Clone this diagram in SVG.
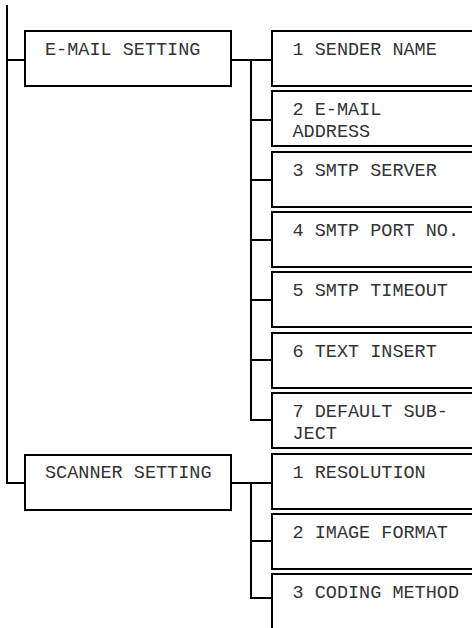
<svg xmlns="http://www.w3.org/2000/svg" width="472" height="628" viewBox="0 0 472 628">
<style>
.box{fill:#fff;stroke:#000;stroke-width:2}
.open{fill:none;stroke:#000;stroke-width:2}
.ln{fill:none;stroke:#000;stroke-width:2}
text{font-family:"Courier New","Liberation Mono",monospace;font-size:18.5px;fill:#333}
</style>
<rect width="472" height="628" fill="#fff"/>
<g id="connectors">
<path class="ln" d="M7,5 V483 H25 M7,60 H25"/>
<path class="ln" d="M231,60 H272 M251,60 V420 H273 M251,120 H272 M251,180 H272 M251,240 H272 M251,300 H272 M251,360 H272"/>
<path class="ln" d="M231,483 H272 M251,483 V598 H273 M251,541 H272"/>
</g>
<g id="email-setting"><rect class="box" x="25" y="31" width="206" height="55"/><text x="45" y="55">E-MAIL SETTING</text></g>
<g id="sender-name"><rect class="box" x="272" y="31" width="210" height="55"/><text x="292.5" y="55">1 SENDER NAME</text></g>
<g id="email-address"><rect class="box" x="272" y="91" width="210" height="55"/><text x="292.5" y="115">2 E-MAIL</text><text x="292.5" y="137">ADDRESS</text></g>
<g id="smtp-server"><rect class="box" x="272" y="152" width="210" height="55"/><text x="292.5" y="176">3 SMTP SERVER</text></g>
<g id="smtp-port"><rect class="box" x="272" y="212" width="210" height="55"/><text x="292.5" y="236">4 SMTP PORT NO.</text></g>
<g id="smtp-timeout"><rect class="box" x="272" y="272" width="210" height="55"/><text x="292.5" y="296">5 SMTP TIMEOUT</text></g>
<g id="text-insert"><rect class="box" x="272" y="333" width="210" height="55"/><text x="292.5" y="357">6 TEXT INSERT</text></g>
<g id="default-subject"><rect class="box" x="272" y="393" width="210" height="55"/><text x="292.5" y="417">7 DEFAULT SUB-</text><text x="292.5" y="439">JECT</text></g>
<g id="scanner-setting"><rect class="box" x="25" y="455" width="206" height="55"/><text x="45" y="478">SCANNER SETTING</text></g>
<g id="resolution"><rect class="box" x="272" y="454" width="210" height="55"/><text x="292.5" y="478">1 RESOLUTION</text></g>
<g id="image-format"><rect class="box" x="272" y="514" width="210" height="55"/><text x="292.5" y="538">2 IMAGE FORMAT</text></g>
<g id="coding-method"><path class="open" d="M482,574 H272 V628"/><text x="292.5" y="598">3 CODING METHOD</text></g>
</svg>
